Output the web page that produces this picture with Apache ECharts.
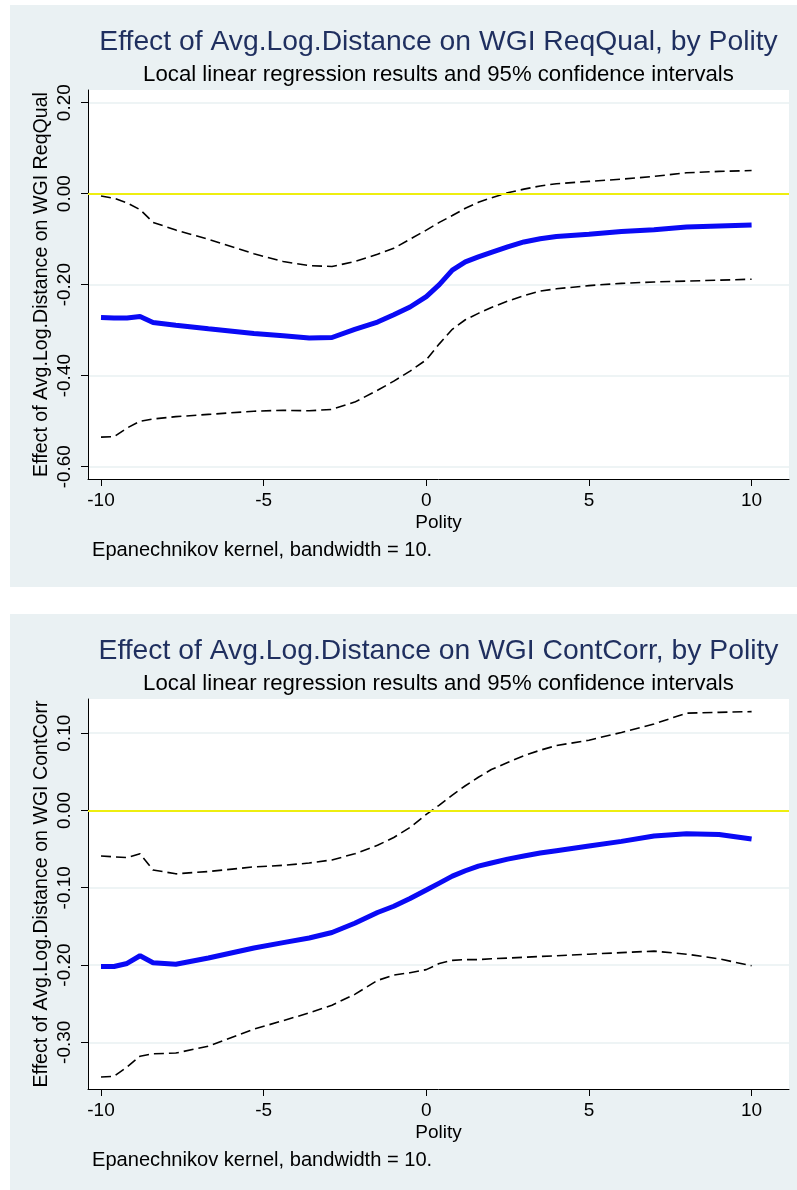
<!DOCTYPE html>
<html><head><meta charset="utf-8">
<script src="https://cdn.jsdelivr.net/npm/echarts@6/dist/echarts.min.js"></script>
<style>
html,body{margin:0;padding:0;background:#fff;}
#wrap{position:relative;width:797px;height:1190px;}
.panel{position:absolute;background:#eaf1f3;}
#chart{position:absolute;left:0;top:0;width:797px;height:1190px;}
</style></head>
<body>
<div id="wrap">
<div class="panel" style="left:10px;top:5px;width:787px;height:582px"></div>
<div class="panel" style="left:10px;top:614px;width:787px;height:576px"></div>
<div id="chart"></div>
</div>
<script>
// ---- data ----
const polity = [-10, -9.6, -9.2, -8.8, -8.4, -7.7, -6.7, -5.3, -4.4, -3.6, -2.9, -2.2, -1.5, -1.0, -0.5, 0, 0.4, 0.8, 1.2, 1.6, 2.0, 2.5, 3.0, 3.5, 4.0, 5.0, 6.0, 7.0, 8.0, 9.0, 10];

const reqFit   = [-0.272,-0.273,-0.273,-0.270,-0.283,-0.289,-0.297,-0.307,-0.312,-0.317,-0.316,-0.298,-0.282,-0.266,-0.249,-0.226,-0.200,-0.168,-0.150,-0.139,-0.129,-0.117,-0.106,-0.099,-0.094,-0.089,-0.083,-0.079,-0.073,-0.071,-0.069];
const reqUpper = [-0.005,-0.010,-0.020,-0.035,-0.063,-0.080,-0.100,-0.132,-0.149,-0.158,-0.160,-0.149,-0.133,-0.120,-0.100,-0.080,-0.063,-0.048,-0.032,-0.019,-0.009,0.002,0.010,0.017,0.022,0.027,0.032,0.038,0.046,0.049,0.051];
const reqLower = [-0.535,-0.534,-0.515,-0.500,-0.495,-0.490,-0.485,-0.478,-0.476,-0.477,-0.474,-0.458,-0.432,-0.412,-0.390,-0.365,-0.330,-0.298,-0.277,-0.263,-0.250,-0.236,-0.224,-0.214,-0.209,-0.202,-0.197,-0.194,-0.192,-0.190,-0.188];

const ccFit   = [-0.202,-0.202,-0.198,-0.188,-0.197,-0.199,-0.191,-0.178,-0.171,-0.165,-0.158,-0.146,-0.132,-0.124,-0.114,-0.103,-0.094,-0.085,-0.078,-0.072,-0.068,-0.063,-0.059,-0.055,-0.052,-0.046,-0.040,-0.033,-0.030,-0.031,-0.037];
const ccUpper = [-0.059,-0.060,-0.061,-0.056,-0.077,-0.082,-0.079,-0.073,-0.071,-0.068,-0.064,-0.056,-0.045,-0.035,-0.022,-0.005,0.007,0.020,0.032,0.043,0.053,0.062,0.071,0.078,0.084,0.091,0.101,0.112,0.126,0.127,0.128];
const ccLower = [-0.345,-0.344,-0.332,-0.318,-0.315,-0.314,-0.305,-0.283,-0.272,-0.262,-0.252,-0.238,-0.220,-0.213,-0.210,-0.206,-0.198,-0.194,-0.193,-0.193,-0.192,-0.191,-0.190,-0.189,-0.188,-0.186,-0.184,-0.182,-0.186,-0.192,-0.201];

const xTicks = [-10, -5, 0, 5, 10];
const reqTicks = [-0.6, -0.4, -0.2, 0, 0.2];
const ccTicks = [-0.3, -0.2, -0.1, 0, 0.1];

const titles = ['Effect of Avg.Log.Distance on WGI ReqQual, by Polity', 'Effect of Avg.Log.Distance on WGI ContCorr, by Polity'];
const yNames = ['Effect of Avg.Log.Distance on WGI ReqQual', 'Effect of Avg.Log.Distance on WGI ContCorr'];
const subtitle = 'Local linear regression results and 95% confidence intervals';
const xName = 'Polity';
const note = 'Epanechnikov kernel, bandwidth = 10.';

// ---- layout ----
const FONT = '"Liberation Sans", Arial, Helvetica, sans-serif';
const cv = document.createElement('canvas').getContext('2d');
function fit(text, target) { cv.font = '100px ' + FONT; return 100 * target / cv.measureText(text).width; }
const titleSize = fit(titles[0], 678);
const subSize = fit(subtitle, 590);
const noteSize = fit(note, 340);
const tickSize = 19;
const yNameSize = fit(yNames[0], 385);

const grids = [
  {left: 88, top: 90, width: 701, height: 389, yMin: -0.627, yMax: 0.2279, ticks: reqTicks, panelTop: 5},
  {left: 88, top: 699, width: 701, height: 390, yMin: -0.3605, yMax: 0.1443, ticks: ccTicks, panelTop: 614}
];

const zpair = (xs, ys) => xs.map((x, i) => [x, ys[i]]);
const blue = {color: '#0a0af5', width: 5};
const dash = {color: '#000', width: 1.6, type: [10, 5]};
const yline = {silent: true, symbol: 'none', label: {show: false}, lineStyle: {color: '#eeee10', width: 2, type: 'solid'}, data: [{yAxis: 0}]};

const option = {
  animation: false,
  backgroundColor: 'transparent',
  grid: grids.map(g => ({left: g.left, top: g.top, width: g.width, height: g.height, show: true, backgroundColor: '#fff', borderWidth: 0, containLabel: false})),
  xAxis: grids.map((g, i) => ({
    type: 'value', gridIndex: i, min: -10.4, max: 11.15,
    axisLine: {show: true, onZero: false, lineStyle: {color: '#000', width: 1}},
    axisTick: {show: true, length: 7, customValues: xTicks, lineStyle: {color: '#000'}},
    axisLabel: {customValues: xTicks, fontFamily: FONT, fontSize: tickSize, color: '#000', margin: 12},
    splitLine: {show: false}
  })),
  yAxis: grids.map((g, i) => ({
    type: 'value', gridIndex: i, min: g.yMin, max: g.yMax,
    name: yNames[i], nameLocation: 'middle', nameGap: 36, nameRotate: 90, nameMoveOverlap: false,
    nameTextStyle: {fontFamily: FONT, fontSize: yNameSize, color: '#000'},
    axisLine: {show: true, onZero: false, lineStyle: {color: '#000', width: 1}},
    axisTick: {show: true, length: 7, customValues: g.ticks, lineStyle: {color: '#000'}},
    axisLabel: {customValues: g.ticks, rotate: 90, fontFamily: FONT, fontSize: tickSize, color: '#000', margin: 14,
      formatter: v => Number(v).toFixed(2)},
    splitLine: {show: true, lineStyle: {color: '#e9f0f2', width: 1.5}}
  })),
  series: [
    {type: 'line', xAxisIndex: 0, yAxisIndex: 0, data: zpair(polity, reqUpper), showSymbol: false, lineStyle: dash, z: 3, markLine: yline},
    {type: 'line', xAxisIndex: 0, yAxisIndex: 0, data: zpair(polity, reqLower), showSymbol: false, lineStyle: dash, z: 3},
    {type: 'line', xAxisIndex: 0, yAxisIndex: 0, data: zpair(polity, reqFit), showSymbol: false, lineStyle: blue, z: 4},
    {type: 'line', xAxisIndex: 1, yAxisIndex: 1, data: zpair(polity, ccUpper), showSymbol: false, lineStyle: dash, z: 3, markLine: yline},
    {type: 'line', xAxisIndex: 1, yAxisIndex: 1, data: zpair(polity, ccLower), showSymbol: false, lineStyle: dash, z: 3},
    {type: 'line', xAxisIndex: 1, yAxisIndex: 1, data: zpair(polity, ccFit), showSymbol: false, lineStyle: blue, z: 4}
  ],
  graphic: grids.flatMap((g, i) => {
    const axisY = g.top + g.height;
    const cx = g.left + g.width / 2;
    return [
      {type: 'text', x: cx, y: g.panelTop + 37, style: {text: titles[i], fill: '#1f2f5f', font: titleSize.toFixed(1) + 'px ' + FONT, textAlign: 'center', textVerticalAlign: 'middle'}},
      {type: 'text', x: cx, y: g.panelTop + 70, style: {text: subtitle, fill: '#000', font: subSize.toFixed(1) + 'px ' + FONT, textAlign: 'center', textVerticalAlign: 'middle'}},
      {type: 'text', x: cx, y: axisY + 44, style: {text: xName, fill: '#000', font: tickSize + 'px ' + FONT, textAlign: 'center', textVerticalAlign: 'middle'}},
      {type: 'text', x: 92, y: axisY + 71, style: {text: note, fill: '#000', font: noteSize.toFixed(1) + 'px ' + FONT, textAlign: 'left', textVerticalAlign: 'middle'}}
    ];
  })
};
const chart = echarts.init(document.getElementById('chart'), null, {renderer: 'canvas'});
chart.setOption(option);
</script>
</body></html>
